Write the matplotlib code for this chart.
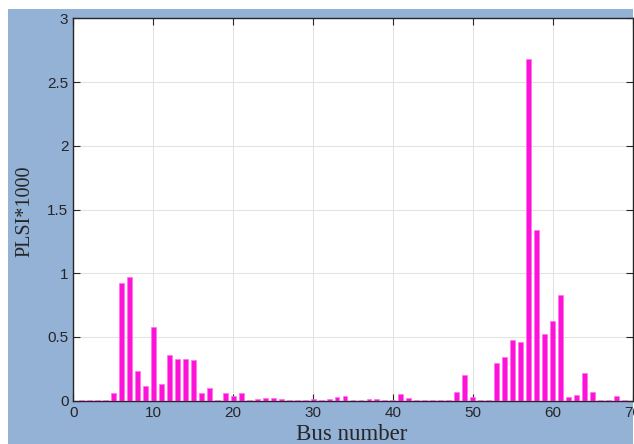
import numpy as np
import matplotlib
matplotlib.use('Agg')
import matplotlib.pyplot as plt
from matplotlib.patches import Rectangle

# bus numbers of the 69-bus system and PLSI (x1000)
bus = np.arange(1, 70)
plsi = [0.003, 0.004, 0.004, 0.005, 0.063, 0.926, 0.970, 0.232, 0.118, 0.576,
        0.129, 0.360, 0.329, 0.329, 0.323, 0.061, 0.100, 0.005, 0.058, 0.037,
        0.058, 0.004, 0.010, 0.021, 0.021, 0.010, 0.005, 0.005, 0.005, 0.012,
        0.005, 0.012, 0.029, 0.040, 0.005, 0.005, 0.010, 0.012, 0.005, 0.005,
        0.055, 0.021, 0.005, 0.005, 0.007, 0.005, 0.005, 0.068, 0.205, 0.029,
        0.005, 0.005, 0.295, 0.342, 0.473, 0.463, 2.685, 1.338, 0.524, 0.626,
        0.831, 0.032, 0.042, 0.216, 0.069, 0.005, 0.005, 0.040, 0.005]

xticks = np.arange(0, 71, 10)
yticks = [0, 0.5, 1, 1.5, 2, 2.5, 3]
ytick_labels = ['0', '0.5', '1', '1.5', '2', '2.5', '3']

W, H = 634, 444
fig = plt.figure(figsize=(W / 100, H / 100), dpi=100, facecolor='white')
# blue-grey window background (the screenshot is cropped with a white margin)
fig.patches.append(Rectangle((8 / W, 0), (633 - 8) / W, (H - 9) / H,
                             transform=fig.transFigure, facecolor='#94b1d6',
                             edgecolor='none', zorder=-10))

ax = fig.add_axes([73.3 / W, (H - 400.7) / H, (632.7 - 73.3) / W, (400.7 - 18.5) / H])
ax.set_facecolor('white')
ax.bar(bus, plsi, width=0.62, color='#ff12d8', edgecolor='#ff70f0', linewidth=0.5, zorder=3)

ax.set_xlim(0, 70)
ax.set_ylim(0, 3)
ax.set_xticks(xticks)
ax.set_yticks(yticks)
ax.set_yticklabels(ytick_labels)
ax.grid(True, color='#e3e3e3', linewidth=0.8, zorder=0)
ax.set_axisbelow(True)
ax.tick_params(direction='in', length=5, width=0.8, top=True, right=True,
               labelsize=11, labelcolor='#262626', colors='#262626')
for lab in ax.get_xticklabels() + ax.get_yticklabels():
    lab.set_fontfamily('Liberation Sans')
for s in ax.spines.values():
    s.set_linewidth(1.0)
    s.set_color('#262626')

fig.text(352 / W, 1 - 434 / H, 'Bus number', family='Liberation Serif', fontsize=16.5,
         color='#262626', ha='center', va='center')
fig.text(25 / W, 1 - 211 / H, 'PLSI*1000', family='Liberation Serif', fontsize=14.5,
         color='#262626', ha='center', va='center', rotation=90)

fig.savefig('out.png', dpi=100, facecolor=fig.get_facecolor())
